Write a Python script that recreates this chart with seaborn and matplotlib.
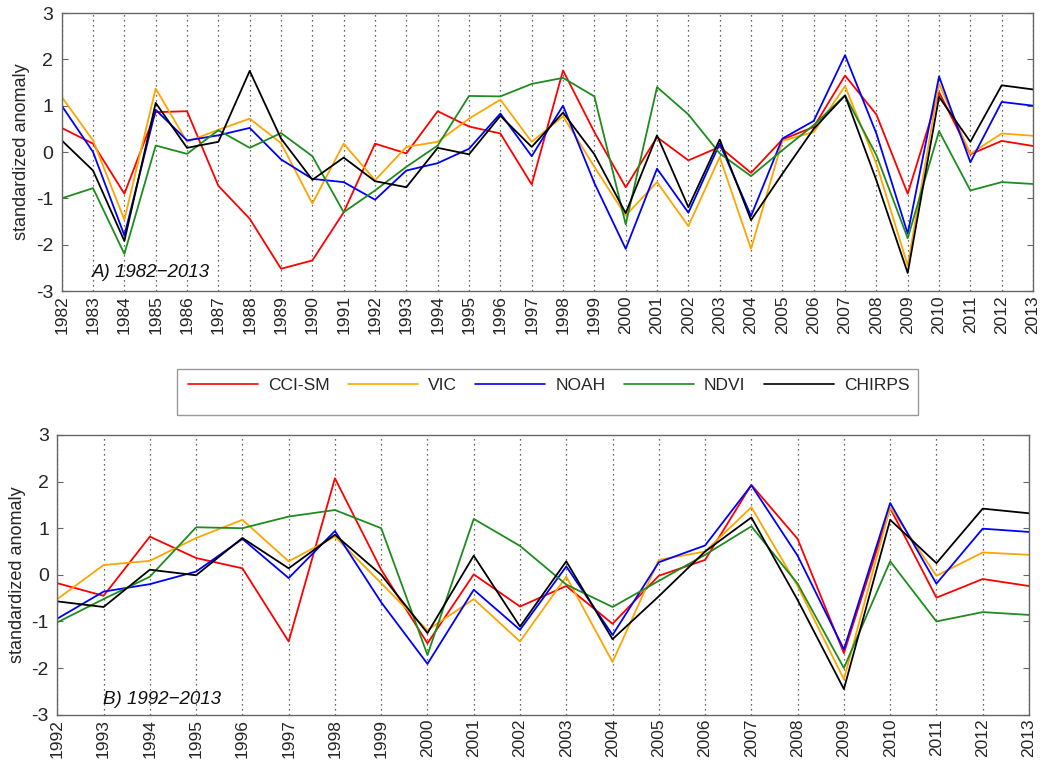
import numpy as np
import pandas as pd
import matplotlib
matplotlib.use("Agg")
import matplotlib.pyplot as plt
from matplotlib.patches import Rectangle
from matplotlib.lines import Line2D
import seaborn as sns

# ---------------- data ----------------
series_names = ["CCI-SM", "VIC", "NOAH", "NDVI", "CHIRPS"]
series_colors = ["#ff0000", "#ffa500", "#0000ff", "#1e8c1e", "#000000"]

years_a = list(range(1982, 2014))
cci_a = [0.52, 0.18, -0.90, 0.86, 0.88, -0.73, -1.44, -2.52, -2.34, -1.30, 0.18, -0.03, 0.88, 0.55, 0.40, -0.70,
         1.76, 0.43, -0.76, 0.32, -0.18, 0.11, -0.45, 0.27, 0.54, 1.65, 0.81, -0.90, 1.29, -0.05, 0.24, 0.13]
vic_a = [1.19, 0.25, -1.46, 1.37, 0.22, 0.48, 0.72, 0.19, -1.11, 0.18, -0.61, 0.11, 0.22, 0.72, 1.13, 0.22,
         0.77, -0.32, -1.37, -0.65, -1.60, -0.11, -2.09, 0.24, 0.43, 1.42, -0.25, -2.45, 1.47, -0.04, 0.40, 0.35]
noah_a = [1.00, 0.00, -1.80, 0.91, 0.25, 0.36, 0.52, -0.16, -0.58, -0.65, -1.03, -0.40, -0.24, 0.07, 0.83, -0.09,
          1.00, -0.67, -2.09, -0.36, -1.31, 0.18, -1.38, 0.29, 0.67, 2.09, 0.40, -1.76, 1.63, -0.22, 1.08, 1.00]
ndvi_a = [-1.00, -0.78, -2.20, 0.14, -0.04, 0.47, 0.09, 0.41, -0.09, -1.30, -0.83, -0.32, 0.14, 1.21, 1.20, 1.47,
          1.60, 1.20, -1.56, 1.40, 0.81, -0.03, -0.52, 0.04, 0.58, 1.22, -0.07, -1.86, 0.45, -0.83, -0.65, -0.69]
chirps_a = [0.25, -0.40, -1.92, 1.06, 0.09, 0.22, 1.75, 0.29, -0.60, -0.12, -0.63, -0.76, 0.09, -0.05, 0.78, 0.11,
            0.85, -0.05, -1.32, 0.36, -1.19, 0.27, -1.47, -0.47, 0.50, 1.22, -0.61, -2.61, 1.19, 0.22, 1.44, 1.35]

years_b = list(range(1992, 2014))
cci_b = [-0.18, -0.45, 0.82, 0.36, 0.14, -1.43, 2.07, 0.11, -1.47, 0.01, -0.68, -0.24, -1.05, -0.02, 0.32,
         1.93, 0.77, -1.68, 1.43, -0.49, -0.09, -0.24]
vic_b = [-0.52, 0.21, 0.30, 0.79, 1.18, 0.29, 0.82, -0.18, -1.19, -0.52, -1.43, -0.04, -1.87, 0.32, 0.50,
         1.45, -0.24, -2.24, 1.45, -0.02, 0.48, 0.43]
noah_b = [-0.94, -0.36, -0.20, 0.07, 0.77, -0.07, 0.94, -0.59, -1.91, -0.32, -1.18, 0.18, -1.29, 0.27, 0.63,
          1.92, 0.41, -1.60, 1.54, -0.19, 0.99, 0.92]
ndvi_b = [-1.02, -0.52, -0.04, 1.02, 1.00, 1.25, 1.39, 1.00, -1.72, 1.20, 0.62, -0.21, -0.69, -0.13, 0.43,
          1.04, -0.19, -2.00, 0.29, -1.00, -0.80, -0.86]
chirps_b = [-0.57, -0.69, 0.11, -0.01, 0.79, 0.14, 0.86, 0.00, -1.25, 0.41, -1.11, 0.29, -1.38, -0.46, 0.50,
            1.23, -0.54, -2.45, 1.18, 0.25, 1.42, 1.32]

y_ticks = [-3, -2, -1, 0, 1, 2, 3]
y_label = "standardized anomaly"
panel_a_label = "A) 1982\u22122013"
panel_b_label = "B) 1992\u22122013"


def long_df(years, arrays):
    frames = []
    for name, vals in zip(series_names, arrays):
        frames.append(pd.DataFrame({"year": years, "value": vals, "dataset": name}))
    return pd.concat(frames, ignore_index=True)


df_a = long_df(years_a, [cci_a, vic_a, noah_a, ndvi_a, chirps_a])
df_b = long_df(years_b, [cci_b, vic_b, noah_b, ndvi_b, chirps_b])

# ---------------- style ----------------
sns.set_style("white")
plt.rcParams["font.family"] = ["Liberation Sans", "DejaVu Sans"]
plt.rcParams["axes.unicode_minus"] = False

fig = plt.figure(figsize=(10.44, 7.65), dpi=100)
ax_a = fig.add_axes([0.0591, 0.6196, 0.9304, 0.3634])
ax_b = fig.add_axes([0.0549, 0.0658, 0.9307, 0.3656])

palette = dict(zip(series_names, series_colors))


def draw(ax, df, years, label, lx, ly):
    sns.lineplot(data=df, x="year", y="value", hue="dataset", hue_order=series_names,
                 palette=palette, ax=ax, legend=False, linewidth=1.3, estimator=None, sort=False)
    ax.set_xlim(years[0], years[-1])
    ax.set_ylim(-3, 3)
    ax.set_xticks(years)
    ax.set_xticklabels([str(y) for y in years], rotation=90, fontsize=12.5)
    ax.set_yticks(y_ticks)
    ax.set_yticklabels([str(t) for t in y_ticks], fontsize=14)
    ax.set_xlabel("")
    ax.set_ylabel(y_label, fontsize=13)
    ax.grid(False)
    ax.grid(axis="x", linestyle=(0, (1, 3)), color="#333333", linewidth=0.9)
    for sp in ax.spines.values():
        sp.set_color("#666666")
        sp.set_linewidth(1.0)
    ax.tick_params(axis="y", direction="in", length=4, right=True, left=True, color="#666666", pad=6)
    ax.tick_params(axis="x", direction="in", length=0, pad=3)
    ax.text(lx, ly, label, transform=ax.transAxes, fontsize=13.5, style="italic",
            ha="left", va="center", color="#111111")


draw(ax_a, df_a, years_a, panel_a_label, 0.031, 0.068)
draw(ax_b, df_b, years_b, panel_b_label, 0.047, 0.053)

# legend box
fig.patches.append(Rectangle((0.1698, 0.4571), 0.7095, 0.0601, transform=fig.transFigure,
                             fill=False, edgecolor="#999999", linewidth=1.0))
handles = [Line2D([], [], color=c, linewidth=1.2) for c in series_colors]
fig.legend(handles, series_names, loc="upper left", bbox_to_anchor=(0.165, 0.527),
           ncol=5, frameon=False, fontsize=12.5, handlelength=4.03, handletextpad=0.58,
           columnspacing=1.06)

fig.savefig("out.png", dpi=100)
